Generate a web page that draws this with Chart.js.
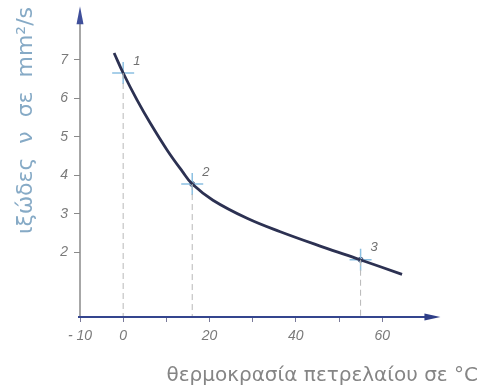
<!DOCTYPE html>
<html>
<head>
<meta charset="utf-8">
<script src="https://cdn.jsdelivr.net/npm/chart.js@4.4.0/dist/chart.umd.min.js"></script>
<style>
  html, body { margin: 0; padding: 0; background: #fff; }
  #wrap { width: 478px; height: 391px; }
</style>
</head>
<body>
<div id="wrap"><canvas id="chart"></canvas></div>
<script>
// viscosity curve
var curveTemp = [-2.1, 0, 3.2, 6.3, 10.2, 13.7, 16.0, 20.8, 28.7, 36.4, 46.3, 54.9, 64.6];
var curveVisc = [7.18, 6.66, 5.96, 5.35, 4.65, 4.10, 3.77, 3.35, 2.88, 2.53, 2.13, 1.80, 1.42];

// marked points 1, 2, 3
var markNames = ['1', '2', '3'];
var markTemp = [0, 16, 55];
var markVisc = [6.66, 3.77, 1.80];

var xTicks = [-10, 0, 10, 20, 30, 40, 50, 60];
var xLabels = ['- 10', '0', '', '20', '', '40', '', '60'];
var yTicks = [2, 3, 4, 5, 6, 7];

var xMin = -10, xMax = 82.2, xAxisEnd = 73.5;
var yMin = 0.31, yMax = 8.56, yAxisEnd = 8.4;

var curvePts = curveTemp.map(function(t, i) { return {x: t, y: curveVisc[i]}; });
var markPts = markTemp.map(function(t, i) { return {x: t, y: markVisc[i]}; });

var datasets = [];
// dashed drop lines
markTemp.forEach(function(t, i) {
	datasets.push({
		data: [{x: t, y: markVisc[i]}, {x: t, y: yMin}],
		borderColor: '#b8b8b8',
		borderWidth: 1,
		borderDash: [6, 4],
		pointRadius: 0,
		showLine: true
	});
});
datasets.push({
	data: curvePts,
	borderColor: '#2c3152',
	borderWidth: 2.8,
	tension: 0.4,
	pointRadius: 0,
	showLine: true
});
datasets.push({
	data: markPts,
	pointStyle: 'cross',
	pointRadius: 11,
	pointBorderWidth: 1.5,
	pointBorderColor: '#8cc0e2',
	showLine: false
});
datasets.push({
	data: markPts.slice(1),
	pointStyle: 'circle',
	pointRadius: 2.5,
	pointBorderWidth: 1,
	pointBorderColor: '#3a4a70',
	pointBackgroundColor: '#ffffff',
	showLine: false
});

// axes with arrows + point numbers
var axisPlugin = {
	id: 'axisPlugin',
	afterDatasetsDraw: function(chart) {
		var ctx = chart.ctx;
		var xs = chart.scales.x, ys = chart.scales.y;
		var x0 = xs.getPixelForValue(xMin), y0 = ys.getPixelForValue(yMin);
		var xEnd = xs.getPixelForValue(xAxisEnd), yEnd = ys.getPixelForValue(yAxisEnd);
		ctx.save();
		// y axis
		ctx.strokeStyle = '#8a8a8a';
		ctx.lineWidth = 1.5;
		ctx.beginPath();
		ctx.moveTo(x0, y0);
		ctx.lineTo(x0, yEnd + 14);
		ctx.stroke();
		ctx.fillStyle = '#3f4f9a';
		ctx.beginPath();
		ctx.moveTo(x0, yEnd);
		ctx.lineTo(x0 - 3.5, yEnd + 18);
		ctx.lineTo(x0 + 3.5, yEnd + 18);
		ctx.closePath();
		ctx.fill();
		// x axis
		ctx.strokeStyle = '#34458e';
		ctx.lineWidth = 2;
		ctx.beginPath();
		ctx.moveTo(x0 - 2, y0);
		ctx.lineTo(xEnd - 12, y0);
		ctx.stroke();
		ctx.fillStyle = '#2f3f88';
		ctx.beginPath();
		ctx.moveTo(xEnd, y0);
		ctx.lineTo(xEnd - 16, y0 - 3.5);
		ctx.lineTo(xEnd - 16, y0 + 3.5);
		ctx.closePath();
		ctx.fill();
		// numbers
		ctx.fillStyle = '#707070';
		ctx.font = 'italic 13px "Liberation Sans", Arial, sans-serif';
		ctx.textAlign = 'left';
		ctx.textBaseline = 'middle';
		markNames.forEach(function(n, i) {
			var px = xs.getPixelForValue(markTemp[i]);
			var py = ys.getPixelForValue(markVisc[i]);
			ctx.fillText(n, px + 10, py - 12);
		});
		ctx.restore();
	}
};

var tickFont = {family: '"Liberation Sans", Arial, sans-serif', size: 14, style: 'italic'};

new Chart(document.getElementById('chart'), {
	type: 'scatter',
	data: {datasets: datasets},
	options: {
		responsive: true,
		maintainAspectRatio: false,
		animation: false,
		layout: {padding: 0, autoPadding: false},
		plugins: {legend: {display: false}, tooltip: {enabled: false}},
		scales: {
			x: {
				type: 'linear',
				min: xMin,
				max: xMax,
				border: {display: false},
				grid: {drawOnChartArea: false, drawTicks: true, tickLength: 5, color: '#7a7a9a', lineWidth: 1},
				afterBuildTicks: function(scale) {
					scale.ticks = xTicks.map(function(v) { return {value: v}; });
				},
				ticks: {
					color: '#7a7a7a',
					font: tickFont,
					padding: 6,
					autoSkip: false,
					maxRotation: 0,
					callback: function(v) { return xLabels[xTicks.indexOf(v)]; }
				},
				title: {
					display: true,
					text: 'θερμοκρασία πετρελαίου σε °C',
					align: 'end',
					color: '#858585',
					font: {family: '"DejaVu Sans", sans-serif', size: 20},
					padding: {top: 0, bottom: 3}
				},
				afterFit: function(scale) {
					scale.height = 74;
					scale.paddingLeft = 0;
					scale.paddingRight = 0;
				}
			},
			y: {
				type: 'linear',
				min: yMin,
				max: yMax,
				border: {display: false},
				grid: {drawOnChartArea: false, drawTicks: true, tickLength: 6, color: '#8a8a8a', lineWidth: 1},
				afterBuildTicks: function(scale) {
					scale.ticks = yTicks.map(function(v) { return {value: v}; });
				},
				ticks: {
					color: '#7a7a7a',
					font: tickFont,
					padding: 6,
					autoSkip: false
				},
				title: {
					display: true,
					text: 'ιξώδες  ν  σε  mm²/s ',
					align: 'end',
					color: '#86aac6',
					font: {family: '"DejaVu Sans", sans-serif', size: 22},
					padding: {top: 13, bottom: 0}
				},
				afterFit: function(scale) {
					scale.width = 80;
					scale.paddingTop = 0;
					scale.paddingBottom = 0;
				}
			}
		}
	},
	plugins: [axisPlugin]
});
</script>
</body>
</html>
